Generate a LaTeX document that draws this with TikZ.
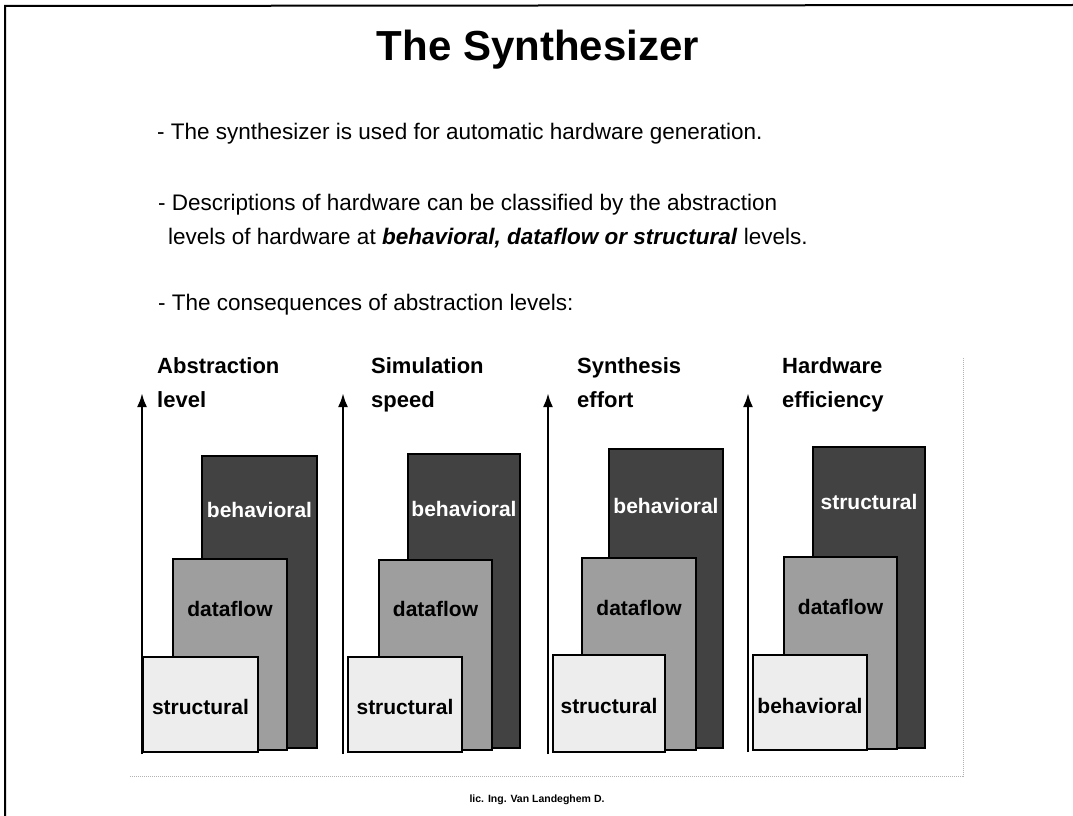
\documentclass[tikz,border=0pt]{standalone}
\usepackage{fontspec}
\setmainfont{Liberation Sans}
\usetikzlibrary{arrows.meta}

\tikzset{
  bullet/.style={anchor=base west, inner sep=0pt, font=\fontsize{22.5}{34}\selectfont},
  heading/.style={anchor=base west, inner sep=0pt, font=\bfseries\fontsize{22}{34}\selectfont},
  axis/.style={line width=2.6pt, -{Latex[length=14pt,width=10pt]}},
  darkbar/.style={draw, line width=1.8pt, fill=black!74},
  midbar/.style={draw, line width=1.8pt, fill=black!38},
  lightbar/.style={draw, line width=1.8pt, fill=black!7},
  barlabel/.style={inner sep=0pt, font=\bfseries\fontsize{21}{21}\selectfont},
  scanline/.style={densely dotted, line width=1pt, gray!60}
}

\begin{document}
\begin{tikzpicture}[x=1pt,y=-1pt]
            \useasboundingbox (0,0) rectangle (1073,816);
            % Frame of the sheet
            \draw[line width=2pt] (5,816) -- (5,6) -- (1073,5);

            % Title and bullet text
            \node[inner sep=0pt, anchor=base, font=\bfseries\fontsize{42}{42}\selectfont] (title) at (538,60) {The Synthesizer};
            \node[bullet] (txt1) at (157,139) {- The synthesizer is used for automatic hardware generation.};
            \node[bullet] (txt2) at (158,210) {- Descriptions of hardware can be classified by the abstraction};
            \node[bullet] (txt3) at (168,244) {levels of hardware at \textbf{\textit{behavioral, dataflow or structural}} levels.};
            \node[bullet] (txt4) at (158,310) {- The consequences of abstraction levels:};

            % Border of the chart area
            \draw[scanline] (130,776) -- (963,776) -- (963,358);

            % Abstraction level
            \node[heading] (head1) at (157,373) {Abstraction};
            \node[heading] (head1b) at (157,407) {level};
            \draw[darkbar] (202,456) rectangle (317,748);
            \draw[midbar] (173,559) rectangle (287,750);
            \draw[lightbar] (143,657) rectangle (258,752);
            \node[barlabel, text=white] (beh1) at (259.5,510) {behavioral};
            \node[barlabel] (dat1) at (230,609) {dataflow};
            \node[barlabel] (str1) at (200.5,707) {structural};
            \coordinate (foot1) at (142,754);
            \coordinate (tip1) at (142,393);
            \draw[axis] (foot1) -- (tip1);

            % Simulation speed
            \node[heading] (head2) at (371,373) {Simulation};
            \node[heading] (head2b) at (371,407) {speed};
            \draw[darkbar] (408,454) rectangle (520,748);
            \draw[midbar] (379,560) rectangle (492,750);
            \draw[lightbar] (348,657) rectangle (462,752);
            \node[barlabel, text=white] (beh2) at (464,509) {behavioral};
            \node[barlabel] (dat2) at (435.5,609) {dataflow};
            \node[barlabel] (str2) at (405,707) {structural};
            \coordinate (foot2) at (343,754);
            \coordinate (tip2) at (343,393);
            \draw[axis] (foot2) -- (tip2);

            % Synthesis effort
            \node[heading] (head3) at (577,373) {Synthesis};
            \node[heading] (head3b) at (577,407) {effort};
            \draw[darkbar] (609,449) rectangle (723,748);
            \draw[midbar] (582,558) rectangle (696,750);
            \draw[lightbar] (553,655) rectangle (665,752);
            \node[barlabel, text=white] (beh3) at (666,506) {behavioral};
            \node[barlabel] (dat3) at (639,608) {dataflow};
            \node[barlabel] (str3) at (609,706) {structural};
            \coordinate (foot3) at (548,754);
            \coordinate (tip3) at (548,393);
            \draw[axis] (foot3) -- (tip3);

            % Hardware efficiency
            \node[heading] (head4) at (782,373) {Hardware};
            \node[heading] (head4b) at (782,407) {efficiency};
            \draw[darkbar] (813,447) rectangle (925,748);
            \draw[midbar] (784,557) rectangle (897,749);
            \draw[lightbar] (753,655) rectangle (867,750);
            \node[barlabel, text=white] (str4) at (869,502) {structural};
            \node[barlabel] (dat4) at (840.5,607) {dataflow};
            \node[barlabel] (beh4) at (810,706) {behavioral};
            \coordinate (foot4) at (748,752);
            \coordinate (tip4) at (748,393);
            \draw[axis] (foot4) -- (tip4);

            % Footer
            \node[inner sep=0pt, anchor=base, font=\bfseries\fontsize{10.5}{12}\selectfont] (author) at (537,802) {lic. Ing. Van Landeghem D.};
        \end{tikzpicture}
\end{document}
